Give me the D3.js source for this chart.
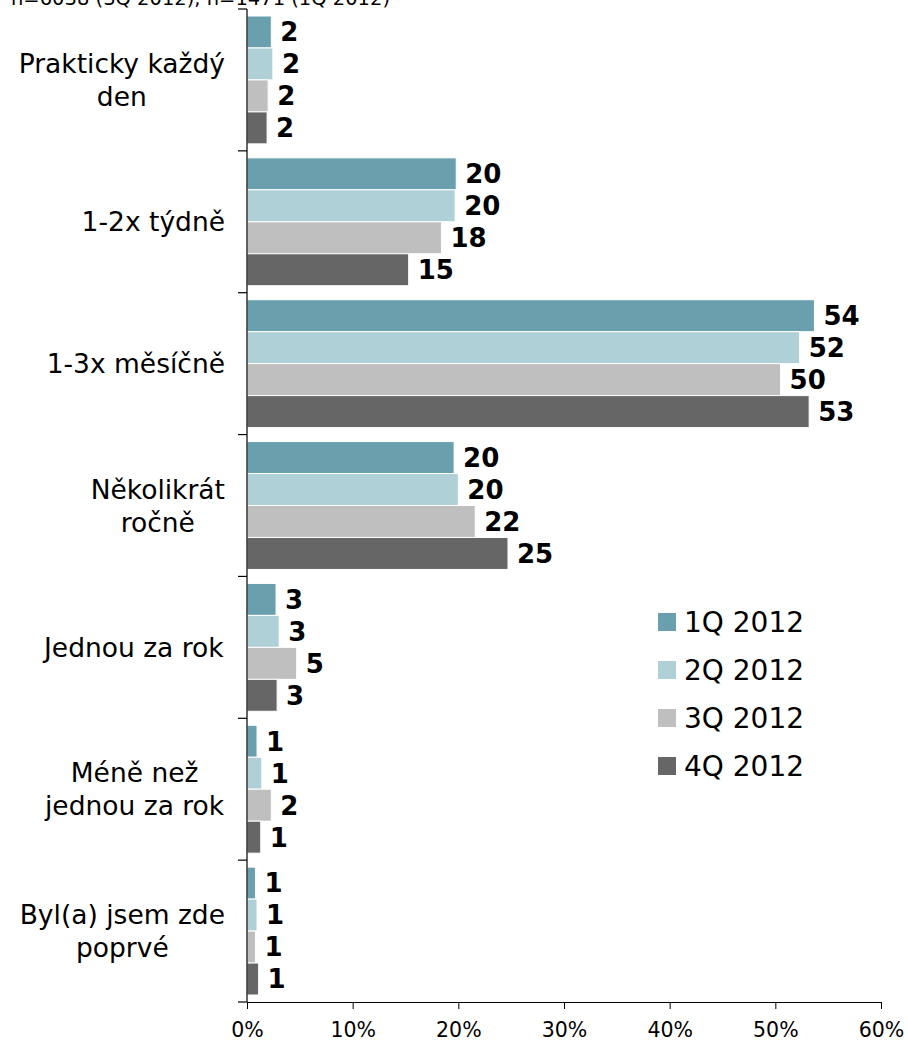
<!DOCTYPE html>
<html>
<head>
<meta charset="utf-8">
<script src="https://cdn.jsdelivr.net/npm/d3@7"></script>
<style>
    body { margin: 0; background: #fff; }
    svg { display: block; font-family: "DejaVu Sans", Verdana, sans-serif; }
    .cat-label { font-size: 26.5px; fill: #000; }
    .val-label { font-size: 26px; font-weight: bold; fill: #000; }
    .x-axis text { font-size: 20.5px; fill: #000; }
    .legend text { font-size: 28px; fill: #000; }
</style>
</head>
<body>
<div id="chart"></div>
<script>
// Frequency of visits by quarter (percent)
const categories = [
    ["Prakticky každý", "den"],
    ["1-2x týdně"],
    ["1-3x měsíčně"],
    ["Několikrát", "ročně"],
    ["Jednou za rok"],
    ["Méně než", "jednou za rok"],
    ["Byl(a) jsem zde", "poprvé"]
];
const series = ["1Q 2012", "2Q 2012", "3Q 2012", "4Q 2012"];
const q1 = [2.3, 19.8, 53.7, 19.6, 2.75, 0.95, 0.8];
const q2 = [2.45, 19.7, 52.3, 20.0, 3.05, 1.4, 0.95];
const q3 = [2.0, 18.4, 50.5, 21.6, 4.7, 2.3, 0.8];
const q4 = [1.9, 15.3, 53.2, 24.7, 2.85, 1.3, 1.1];
const shownLabels = [
    [2, 20, 54, 20, 3, 1, 1],
    [2, 20, 52, 20, 3, 1, 1],
    [2, 18, 50, 22, 5, 2, 1],
    [2, 15, 53, 25, 3, 1, 1]
];
const xTicks = [0, 10, 20, 30, 40, 50, 60];
const colors = ["#6a9fad", "#b0d0d8", "#bfbfbf", "#666666"];
const note = "n=6038 (3Q 2012), n=1471 (1Q 2012)";

const values = [q1, q2, q3, q4];
const W = 908, H = 1043;

const svg = d3.select("#chart").append("svg")
    .attr("width", W)
    .attr("height", H);

// sample size note, cut by the top edge as in the source
svg.append("text")
    .attr("x", 11)
    .attr("y", 5)
    .style("font-size", "19.5px")
    .text(note);

const x = d3.scaleLinear().domain([0, 60]).range([247, 881]);
const catKeys = categories.map(c => c.join(" "));
const y = d3.scaleBand().domain(catKeys).range([9, 1002]);
const ys = d3.scaleBand().domain(series).range([7, y.bandwidth() - 7]);

// bars
const groups = svg.selectAll(".cat")
    .data(catKeys)
    .enter().append("g")
    .attr("class", "cat")
    .attr("transform", d => `translate(0,${y(d)})`);

groups.each(function (key, ci) {
    const g = d3.select(this);
    series.forEach((s, si) => {
        const v = values[si][ci];
        g.append("rect")
            .attr("x", x(0))
            .attr("y", ys(s))
            .attr("width", x(v) - x(0))
            .attr("height", ys.bandwidth())
            .attr("fill", colors[si])
            .attr("stroke", "#fff")
            .attr("stroke-width", 1);
        g.append("text")
            .attr("class", "val-label")
            .attr("x", x(v) + 9)
            .attr("y", ys(s) + ys.bandwidth() / 2)
            .attr("dy", "0.36em")
            .text(shownLabels[si][ci]);
    });
});

// category labels, each centred on its widest line, right edge near the axis
categories.forEach((lines, ci) => {
    const t = svg.append("text")
        .attr("class", "cat-label")
        .attr("text-anchor", "middle");
    const cy = y(catKeys[ci]) + y.bandwidth() / 2;
    const lh = 33;
    lines.forEach((ln, li) => {
        t.append("tspan")
            .attr("x", 0)
            .attr("y", cy + (li - (lines.length - 1) / 2) * lh)
            .attr("dy", "0.36em")
            .text(ln);
    });
    const w = t.node().getBBox().width;
    t.selectAll("tspan").attr("x", 225 - w / 2);
});

// y axis line with ticks between categories
const yTickPos = catKeys.map(k => y(k)).concat([y.range()[1]]);
svg.append("line")
    .attr("x1", x(0)).attr("x2", x(0))
    .attr("y1", y.range()[0]).attr("y2", y.range()[1])
    .attr("stroke", "#000").attr("stroke-width", 1.2);
svg.selectAll(".ytick")
    .data(yTickPos)
    .enter().append("line")
    .attr("x1", x(0) - 9).attr("x2", x(0))
    .attr("y1", d => d).attr("y2", d => d)
    .attr("stroke", "#000").attr("stroke-width", 1.2);

// x axis
const xAxis = svg.append("g")
    .attr("class", "x-axis")
    .attr("transform", `translate(0,${y.range()[1]})`)
    .call(d3.axisBottom(x).tickValues(xTicks).tickSize(7).tickSizeOuter(0).tickPadding(13)
        .tickFormat(d => d + "%"));
xAxis.select(".domain").attr("stroke", "#000").attr("stroke-width", 1.2);
xAxis.selectAll(".tick line").attr("stroke", "#000");
xAxis.selectAll("text").style("font-family", "\"DejaVu Sans\", Verdana, sans-serif");

// legend
const legend = svg.append("g").attr("class", "legend");
series.forEach((s, i) => {
    const ly = 622 + i * 48;
    legend.append("rect")
        .attr("x", 658).attr("y", ly - 9)
        .attr("width", 18).attr("height", 18)
        .attr("fill", colors[i]);
    legend.append("text")
        .attr("x", 684).attr("y", ly)
        .attr("dy", "0.36em")
        .text(s);
});
</script>
</body>
</html>
